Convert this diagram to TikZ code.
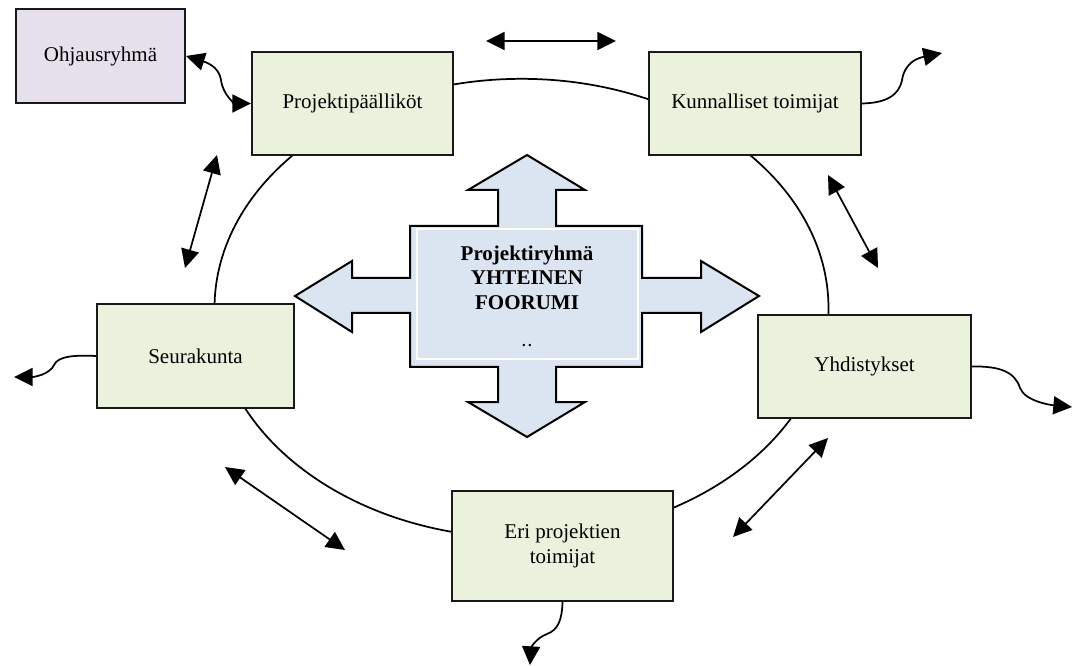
\documentclass[tikz,border=0pt]{standalone}
\usepackage{fontspec}
\setmainfont{Liberation Serif}
\usepackage{tikz}
\usepackage{xcolor}
\usetikzlibrary{arrows.meta, positioning}

\definecolor{boxgreen}{HTML}{EAF1DD}
\definecolor{boxlilac}{HTML}{E5E0EC}
\definecolor{forumblue}{HTML}{DBE5F1}

\begin{document}
\begin{tikzpicture}[x=0.75pt, y=-0.75pt, line width=1.3pt,
        >={Triangle[length=14pt, width=13.5pt]},
        box/.style={rectangle, draw=black!90, line width=1.5pt, fill=boxgreen, inner sep=2pt, align=center,
            font=\fontsize{15.75}{18.75}\selectfont}]
                        \useasboundingbox (0, 0) rectangle (1074, 666);
                        \draw (521.5, 308.3) ellipse [x radius=230.25pt, y radius=172.1pt];

                        \node[box, fill=boxlilac, minimum width=126.75pt, minimum height=70.5pt] (ohjaus) at (100.5, 56) {Ohjausryhmä};
                        \node[box, minimum width=150.75pt, minimum height=77.25pt] (paalliko) at (352.5, 103.5) {Projektipäälliköt};
                        \node[box, minimum width=159pt, minimum height=77.25pt] (kunta) at (755, 103.5) {Kunnalliset toimijat};
                        \node[box, minimum width=147.75pt, minimum height=78pt] (seurakunta) at (195.5, 356) {Seurakunta};
                        \node[box, minimum width=159.75pt, minimum height=77.25pt] (yhdistys) at (864.5, 366.5) {Yhdistykset};
                        \node[box, minimum width=165.75pt, minimum height=82.5pt] (projektit) at (562.5, 546) {Eri projektien\\toimijat};

                        \draw[fill=forumblue, line width=1.5pt]
                        (527, 155) -- (585, 190) -- (556, 190) -- (556, 226) -- (642, 226) -- (642, 278)
                        -- (701, 278) -- (701, 261) -- (759, 296) -- (701, 332) -- (701, 313) -- (642, 313)
                        -- (642, 367) -- (556, 367) -- (556, 402) -- (585, 402) -- (527, 437) -- (468, 402)
                        -- (498, 402) -- (498, 367) -- (410, 367) -- (410, 313) -- (352, 313) -- (352, 332)
                        -- (295, 296) -- (352, 261) -- (352, 278) -- (410, 278) -- (410, 226) -- (498, 226)
                        -- (498, 190) -- (468, 190) -- cycle;
                        \draw[white, line width=1.2pt] (417, 229) rectangle (638, 359);
                        \node[align=center, font=\bfseries\fontsize{15.75}{18.4}\selectfont] (foorumi) at (527, 277.5) {Projektiryhmä\\YHTEINEN\\FOORUMI};
                        \node[font=\bfseries\fontsize{11}{12}\selectfont, inner sep=0pt] (pisteet) at (527, 346) {.\,.};

                        \coordinate (top-1) at (486, 41);
                        \coordinate (top-2) at (616, 41);
                        \coordinate (left-1) at (217, 155);
                        \coordinate (left-2) at (185, 268);
                        \coordinate (right-1) at (828, 175);
                        \coordinate (right-2) at (878, 268);
                        \coordinate (low-1) at (225, 467);
                        \coordinate (low-2) at (345, 550);
                        \coordinate (lowr-1) at (828, 438);
                        \coordinate (lowr-2) at (733, 537);
                        \draw
                        (top-1) edge[<->] (top-2)
                        (left-1) edge[<->] (left-2)
                        (right-1) edge[<->] (right-2)
                        (low-1) edge[<->] (low-2)
                        (lowr-1) edge[<->] (lowr-2);

                        \coordinate (kunta-out) at (942, 53);
                        \coordinate (seura-out) at (14, 377);
                        \coordinate (yhd-out) at (1072, 407);
                        \coordinate (proj-out) at (530, 665);
                        \draw[<->] (ohjaus.east) .. controls (205, 62) and (219, 66) .. (221, 80)
                            .. controls (223, 96) and (236, 103.5) .. (paalliko.west);
                        \draw[->] (kunta.east) .. controls (885, 103) and (899, 96) .. (902, 80)
                            .. controls (905, 62) and (918, 58) .. (kunta-out);
                        \draw[->] (seurakunta.west) .. controls (75, 355) and (58, 356) .. (54, 365)
                            .. controls (50, 374) and (35, 377) .. (seura-out);
                        \draw[->] (yhdistys.east) .. controls (1000, 366) and (1015, 372) .. (1020, 388)
                            .. controls (1025, 401) and (1050, 405) .. (yhd-out);
                        \draw[->] (projektit.south) .. controls (562, 620) and (558, 630) .. (547, 634)
                            .. controls (536, 638) and (531, 648) .. (proj-out);
                    \end{tikzpicture}
\end{document}
